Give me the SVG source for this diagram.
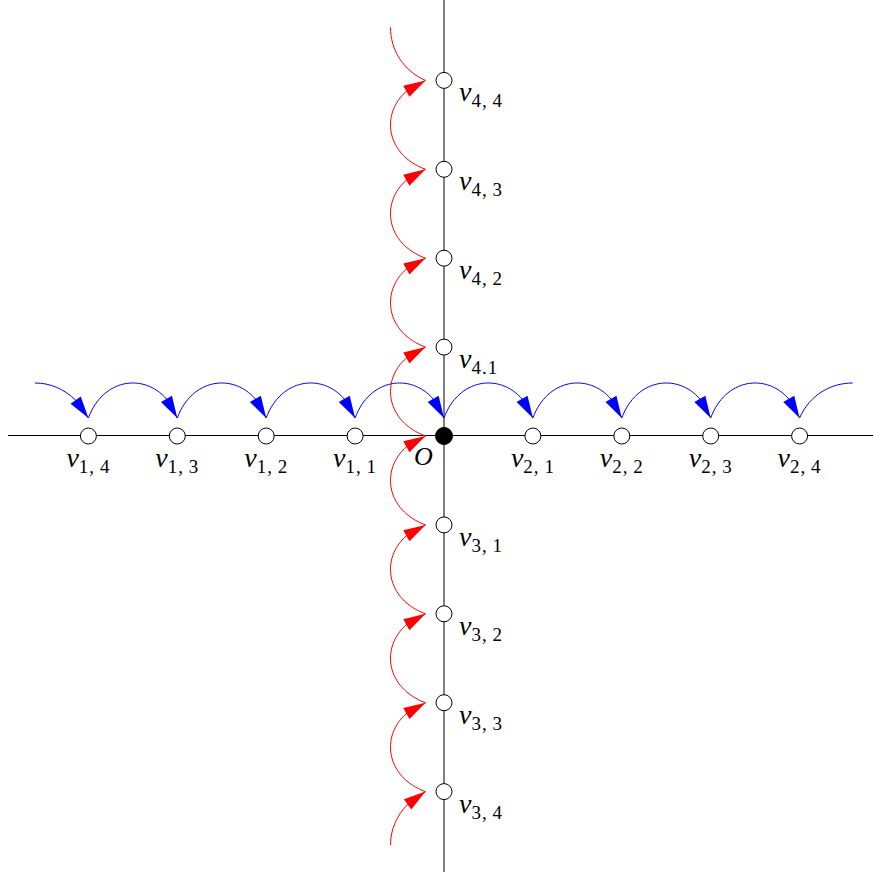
<svg xmlns="http://www.w3.org/2000/svg" width="873" height="873" viewBox="0 0 873 873">
<style>
.axis{stroke:#000;stroke-width:1;fill:none}
.blue{stroke:#0000ff;stroke-width:1;fill:none;marker-end:url(#ab)}
.blue0{stroke:#0000ff;stroke-width:1;fill:none}
.red{stroke:#ff0000;stroke-width:1;fill:none;marker-end:url(#ar)}
.red0{stroke:#ff0000;stroke-width:1;fill:none}
.node{fill:#fff;stroke:#000;stroke-width:1}
.origin{fill:#000;stroke:#000;stroke-width:1}
.lbl{font-family:"Liberation Serif","Times New Roman",serif;fill:#000}
.h{text-anchor:middle}
.v{font-style:italic;font-size:28px}
.sub{font-size:19px;letter-spacing:1px}
</style>
<defs>
<marker id="ab" markerUnits="userSpaceOnUse" viewBox="-23 -8 24 16" refX="0" refY="0" markerWidth="24" markerHeight="16" orient="auto">
<path d="M0,0 L-22,-6.3 L-22,6.3 Z" fill="#0000ff"/>
</marker>
<marker id="ar" markerUnits="userSpaceOnUse" viewBox="-23 -8 24 16" refX="0" refY="0" markerWidth="24" markerHeight="16" orient="auto">
<path d="M0,0 L-22,-6.3 L-22,6.3 Z" fill="#ff0000"/>
</marker>
</defs>
<g id="axes">
<line class="axis" x1="8" y1="435.5" x2="880" y2="435.5"/>
<line class="axis" x1="444" y1="0" x2="444" y2="872"/>
</g>
<g id="connectors">
<path class="blue" d="M35,383 c 14.98,0 29.01,5.73 40.83,17.35 l 12.57,17.65"/>
<path class="blue" d="M88.4,418 c 14.28,-39.23 55.37,-45.5 78.23,-18.83 l 10.67,18.83"/>
<path class="blue" d="M177.3,418 c 14.28,-39.23 55.37,-45.5 78.23,-18.83 l 10.67,18.83"/>
<path class="blue" d="M266.2,418 c 14.28,-39.23 55.37,-45.5 78.23,-18.83 l 10.67,18.83"/>
<path class="blue" d="M355.1,418 c 14.28,-39.23 55.37,-45.5 78.23,-18.83 l 10.67,18.83"/>
<path class="blue" d="M444,418 c 14.28,-39.23 55.37,-45.5 78.23,-18.83 l 10.67,18.83"/>
<path class="blue" d="M532.9,418 c 14.28,-39.23 55.37,-45.5 78.23,-18.83 l 10.67,18.83"/>
<path class="blue" d="M621.8,418 c 14.28,-39.23 55.37,-45.5 78.23,-18.83 l 10.67,18.83"/>
<path class="blue" d="M710.7,418 c 14.28,-39.23 55.37,-45.5 78.23,-18.83 l 10.67,18.83"/>
<path class="blue0" d="M799.6,418 c 10.1,-23.32 31.6,-35 53,-35"/>
<path class="red" d="M390.5,845 c 0,-14.98 5.73,-29.01 17.35,-40.83 l 17.65,-12.57"/>
<path class="red" d="M425.5,791.6 c -39.23,-14.28 -45.5,-55.37 -18.83,-78.23 l 18.83,-10.67"/>
<path class="red" d="M425.5,702.7 c -39.23,-14.28 -45.5,-55.37 -18.83,-78.23 l 18.83,-10.67"/>
<path class="red" d="M425.5,613.8 c -39.23,-14.28 -45.5,-55.37 -18.83,-78.23 l 18.83,-10.67"/>
<path class="red" d="M425.5,524.9 c -39.23,-14.28 -45.5,-55.37 -18.83,-78.23 l 18.83,-10.67"/>
<path class="red" d="M425.5,436 c -39.23,-14.28 -45.5,-55.37 -18.83,-78.23 l 18.83,-10.67"/>
<path class="red" d="M425.5,347.1 c -39.23,-14.28 -45.5,-55.37 -18.83,-78.23 l 18.83,-10.67"/>
<path class="red" d="M425.5,258.2 c -39.23,-14.28 -45.5,-55.37 -18.83,-78.23 l 18.83,-10.67"/>
<path class="red" d="M425.5,169.3 c -39.23,-14.28 -45.5,-55.37 -18.83,-78.23 l 18.83,-10.67"/>
<path class="red0" d="M425.5,80.4 c -23.32,-10.1 -35,-31.6 -35,-53"/>
</g>
<g id="O">
<circle class="origin" cx="444" cy="436" r="8.5"/>
<text class="lbl" x="414" y="465" font-style="italic" font-size="26">O</text>
</g>
<g id="v14"><circle class="node" cx="88.4" cy="436" r="8"/><text class="lbl h" x="88.4" y="467"><tspan class="v">v</tspan><tspan class="sub" dy="6">1,&#8201;4</tspan></text></g>
<g id="v13"><circle class="node" cx="177.3" cy="436" r="8"/><text class="lbl h" x="177.3" y="467"><tspan class="v">v</tspan><tspan class="sub" dy="6">1,&#8201;3</tspan></text></g>
<g id="v12"><circle class="node" cx="266.2" cy="436" r="8"/><text class="lbl h" x="266.2" y="467"><tspan class="v">v</tspan><tspan class="sub" dy="6">1,&#8201;2</tspan></text></g>
<g id="v11"><circle class="node" cx="355.1" cy="436" r="8"/><text class="lbl h" x="355.1" y="467"><tspan class="v">v</tspan><tspan class="sub" dy="6">1,&#8201;1</tspan></text></g>
<g id="v21"><circle class="node" cx="532.9" cy="436" r="8"/><text class="lbl h" x="532.9" y="467"><tspan class="v">v</tspan><tspan class="sub" dy="6">2,&#8201;1</tspan></text></g>
<g id="v22"><circle class="node" cx="621.8" cy="436" r="8"/><text class="lbl h" x="621.8" y="467"><tspan class="v">v</tspan><tspan class="sub" dy="6">2,&#8201;2</tspan></text></g>
<g id="v23"><circle class="node" cx="710.7" cy="436" r="8"/><text class="lbl h" x="710.7" y="467"><tspan class="v">v</tspan><tspan class="sub" dy="6">2,&#8201;3</tspan></text></g>
<g id="v24"><circle class="node" cx="799.6" cy="436" r="8"/><text class="lbl h" x="799.6" y="467"><tspan class="v">v</tspan><tspan class="sub" dy="6">2,&#8201;4</tspan></text></g>
<g id="v44"><circle class="node" cx="444" cy="80.4" r="8"/><text class="lbl" x="459" y="101.4"><tspan class="v">v</tspan><tspan class="sub" dy="6">4,&#8201;4</tspan></text></g>
<g id="v43"><circle class="node" cx="444" cy="169.3" r="8"/><text class="lbl" x="459" y="190.3"><tspan class="v">v</tspan><tspan class="sub" dy="6">4,&#8201;3</tspan></text></g>
<g id="v42"><circle class="node" cx="444" cy="258.2" r="8"/><text class="lbl" x="459" y="279.2"><tspan class="v">v</tspan><tspan class="sub" dy="6">4,&#8201;2</tspan></text></g>
<g id="v41"><circle class="node" cx="444" cy="347.1" r="8"/><text class="lbl" x="459" y="368.1"><tspan class="v">v</tspan><tspan class="sub" dy="6">4.1</tspan></text></g>
<g id="v31"><circle class="node" cx="444" cy="524.9" r="8"/><text class="lbl" x="459" y="545.9"><tspan class="v">v</tspan><tspan class="sub" dy="6">3,&#8201;1</tspan></text></g>
<g id="v32"><circle class="node" cx="444" cy="613.8" r="8"/><text class="lbl" x="459" y="634.8"><tspan class="v">v</tspan><tspan class="sub" dy="6">3,&#8201;2</tspan></text></g>
<g id="v33"><circle class="node" cx="444" cy="702.7" r="8"/><text class="lbl" x="459" y="723.7"><tspan class="v">v</tspan><tspan class="sub" dy="6">3,&#8201;3</tspan></text></g>
<g id="v34"><circle class="node" cx="444" cy="791.6" r="8"/><text class="lbl" x="459" y="812.6"><tspan class="v">v</tspan><tspan class="sub" dy="6">3,&#8201;4</tspan></text></g>
</svg>
